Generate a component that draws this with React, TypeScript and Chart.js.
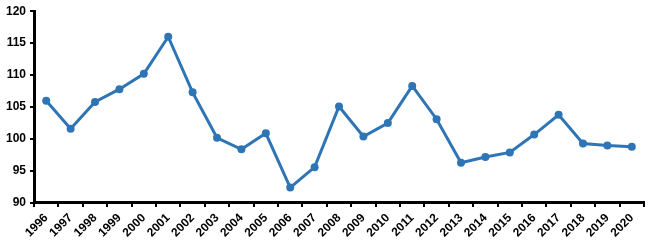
import React, { useEffect, useRef } from "react";
import { Chart, registerables } from "chart.js";

Chart.register(...registerables);

const years = [
  "1996", "1997", "1998", "1999", "2000", "2001", "2002", "2003", "2004", "2005",
  "2006", "2007", "2008", "2009", "2010", "2011", "2012", "2013", "2014", "2015",
  "2016", "2017", "2018", "2019", "2020",
];
const values = [
  106.0, 101.6, 105.8, 107.8, 110.2, 116.0, 107.3, 100.2, 98.4, 100.9,
  92.4, 95.6, 105.1, 100.4, 102.5, 108.3, 103.1, 96.3, 97.2, 97.9,
  100.7, 103.8, 99.3, 99.0, 98.8,
];
const yMin = 90;
const yMax = 120;
const yStep = 5;

export default function App() {
  const ref = useRef<HTMLCanvasElement | null>(null);
  useEffect(() => {
    document.body.style.margin = "0";
    if (!ref.current) return;
    const font = { family: "'Liberation Sans', Arial, sans-serif", size: 12, weight: "bold" as const };
    const chart = new Chart(ref.current, {
      type: "line",
      data: {
        labels: years,
        datasets: [
          {
            data: values,
            borderColor: "#2E75B6",
            backgroundColor: "#2E75B6",
            borderWidth: 3,
            pointRadius: 4,
            pointHoverRadius: 4,
            pointBorderWidth: 0,
            tension: 0,
          },
        ],
      },
      options: {
        animation: false,
        responsive: false,
        maintainAspectRatio: false,
        layout: { padding: { left: 2, top: 5, right: 6, bottom: 2 } },
        plugins: { legend: { display: false }, tooltip: { enabled: false } },
        scales: {
          x: {
            offset: true,
            grid: {
              offset: true,
              drawOnChartArea: false,
              drawTicks: true,
              tickLength: 4,
              color: "#000",
              lineWidth: 2,
            },
            border: { display: true, color: "#000", width: 3 },
            ticks: {
              autoSkip: false,
              maxRotation: 45,
              minRotation: 45,
              color: "#000",
              font,
              padding: 4,
            },
          },
          y: {
            min: yMin,
            max: yMax,
            grid: {
              drawOnChartArea: false,
              drawTicks: true,
              tickLength: 4,
              color: "#000",
              lineWidth: 2,
            },
            border: { display: true, color: "#000", width: 3 },
            ticks: { stepSize: yStep, color: "#000", font, padding: 4 },
          },
        },
      },
    });
    return () => chart.destroy();
  }, []);
  return <canvas ref={ref} width={650} height={246} style={{ display: "block" }} />;
}
